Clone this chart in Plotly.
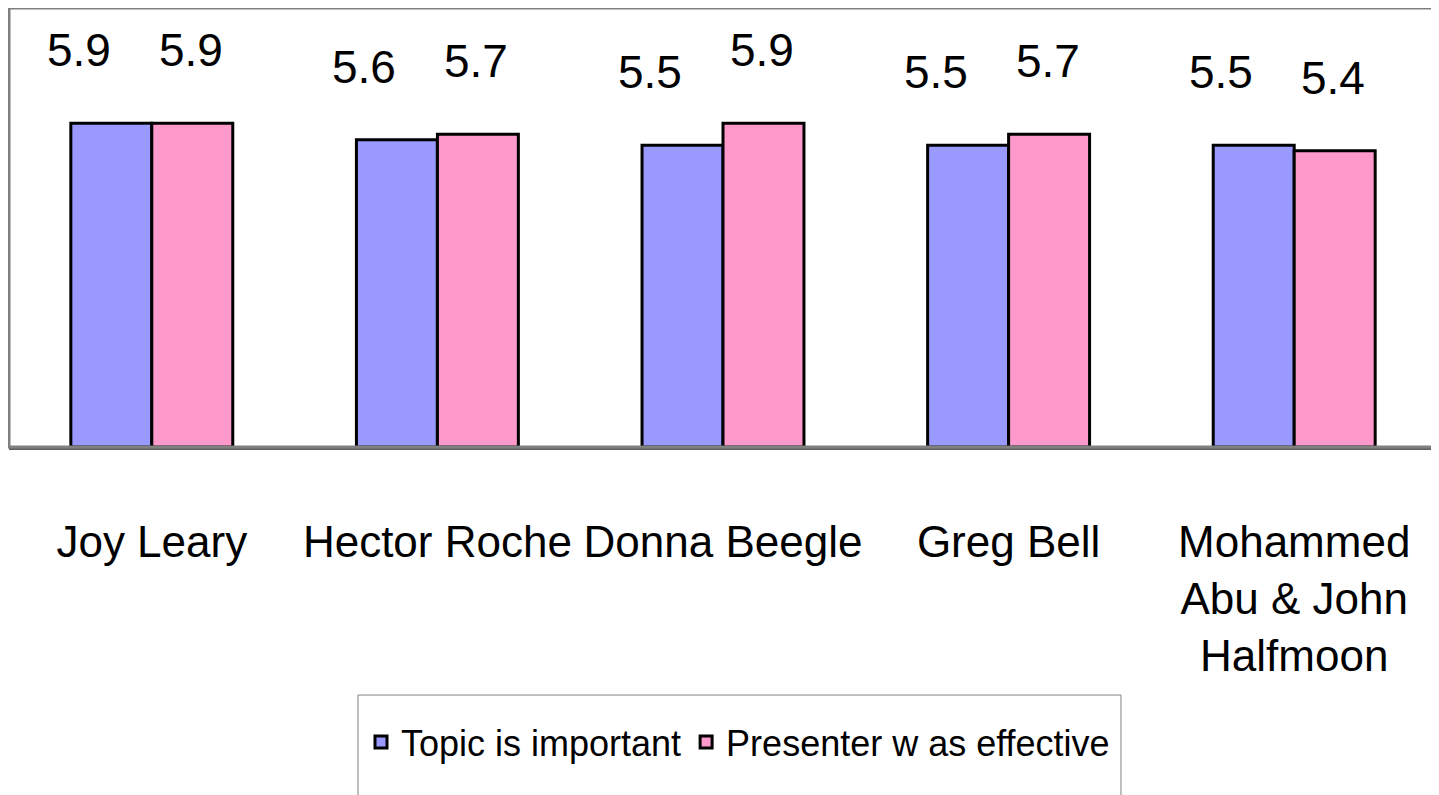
import plotly.graph_objects as go

categories = ["Joy Leary", "Hector Roche", "Donna Beegle", "Greg Bell",
              "Mohammed<br>Abu & John<br>Halfmoon"]
topic_important = [5.9, 5.6, 5.5, 5.5, 5.5]
presenter_effective = [5.9, 5.7, 5.9, 5.7, 5.4]
series_names = ["Topic is important", "Presenter w as effective"]
series_colors = ["#9999FF", "#FF99CC"]

FONT = "Liberation Sans, Arial, sans-serif"

fig = go.Figure()
for name, vals, col in zip(series_names, [topic_important, presenter_effective], series_colors):
    fig.add_trace(go.Bar(
        x=categories, y=vals, name=name,
        marker=dict(color=col, line=dict(color="black", width=3)),
    ))

# value labels
annotations = []
for vals, xs in [(topic_important, -73), (presenter_effective, 39)]:
    for c, v in zip(categories, vals):
        annotations.append(dict(
            x=c, y=v, xref="x", yref="y", text=f"{v:.1f}", showarrow=False,
            xshift=xs, yshift=45, yanchor="bottom",
            font=dict(family=FONT, size=46, color="black"),
        ))

fig.update_layout(
    width=1431, height=787,
    margin=dict(l=1, r=2, t=0, b=348, autoexpand=False),
    paper_bgcolor="white", plot_bgcolor="white",
    barmode="group", bargap=0.433, bargroupgap=0,
    font=dict(family=FONT, color="black"),
    showlegend=True,
    legend=dict(orientation="h", x=0.2465, xanchor="left", y=-0.672, yanchor="middle",
                font=dict(family=FONT, size=36, color="black"),
                bgcolor="rgba(0,0,0,0)"),
    annotations=annotations,
    xaxis=dict(showline=True, linecolor="#606060", linewidth=3, ticks="outside",
               ticklen=54, tickcolor="rgba(0,0,0,0)", tickangle=0, automargin=False,
               tickfont=dict(family=FONT, size=44, color="black"), showgrid=False),
    yaxis=dict(range=[0, 8], showticklabels=False, showgrid=False, zeroline=False,
               showline=False, automargin=False),
    shapes=[
        dict(type="rect", xref="paper", yref="paper", x0=0, x1=1, y0=0, y1=1,
             line=dict(color="#808080", width=3), layer="above"),
        dict(type="rect", xref="paper", yref="paper", x0=0.2444, x1=0.7787,
             y0=-0.82, y1=-0.565, line=dict(color="#808080", width=1)),
    ],
)

fig.write_html("out.html")
